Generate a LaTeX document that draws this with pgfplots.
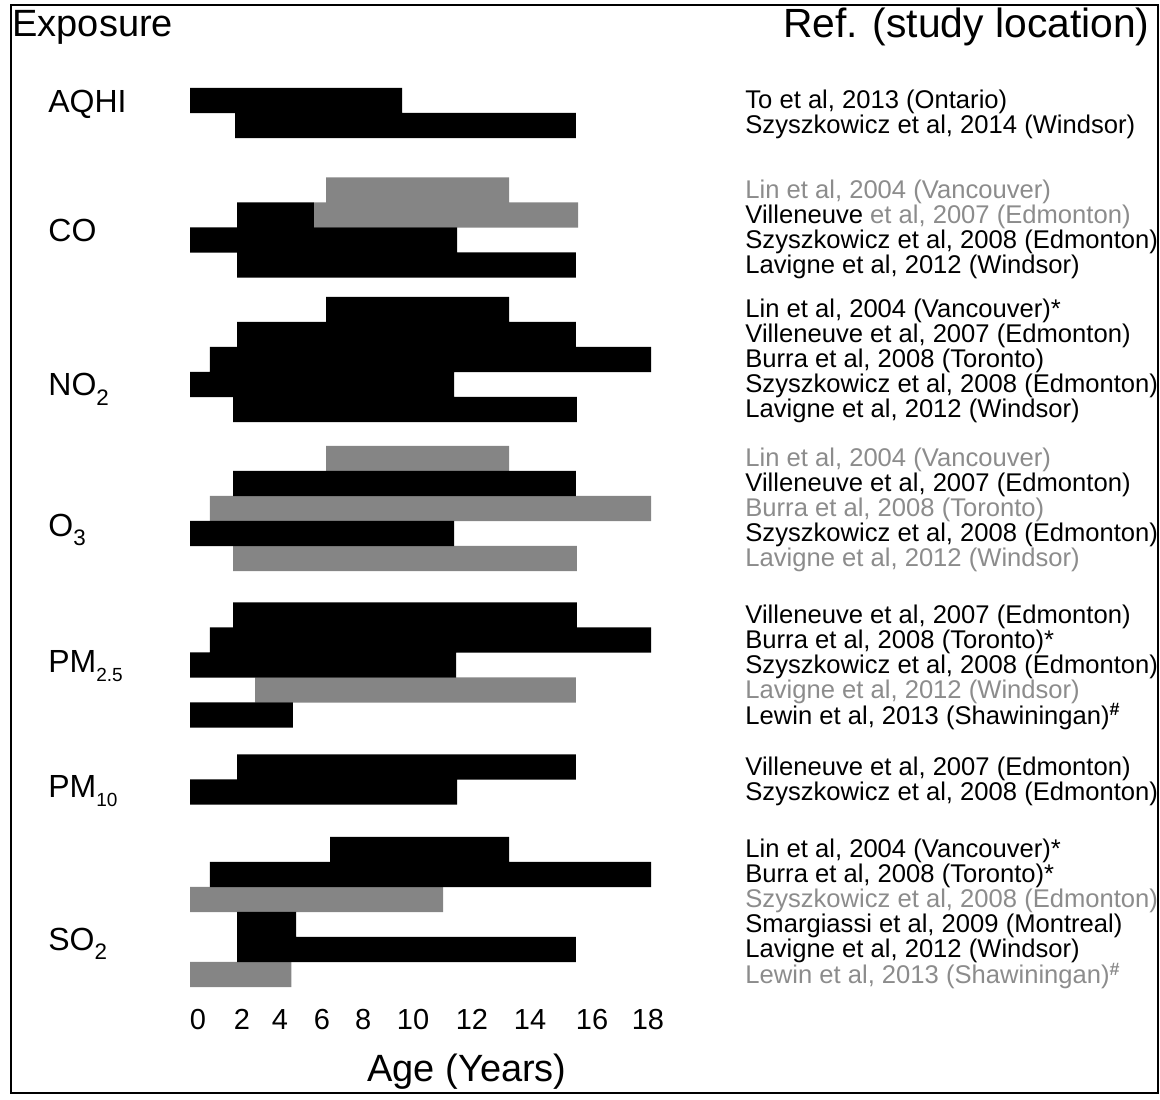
\documentclass[border=0pt]{standalone}
\usepackage{fontspec}
\setmainfont{Liberation Sans}
\usepackage{pgfplots}
\usepackage{pgfplotstable}
\pgfplotsset{compat=1.18}
\definecolor{bargray}{gray}{0.52}
\definecolor{txtgray}{gray}{0.55}

% y: vertical row position (px from top), start: first age of bar,
% black / gray: lengths (years) of the black and grey parts of each bar
\pgfplotstableread{
y     start black gray
100.5 0     8.28  0
125.5 1.76  13.31 0
190   5.31  0     7.15
215   1.84  3.00  10.31
240   0     10.43 0
265   1.84  13.23 0
309.5 5.31  7.15  0
334.5 1.84  13.23 0
359.5 0.78  17.22 0
384.5 0     10.31 0
409.5 1.68  13.43 0
458.5 5.31  0     7.15
483.5 1.68  13.39 0
508.5 0.78  0     17.22
533.5 0     10.31 0
558.5 1.68  0     13.43
615   1.68  13.43 0
640   0.78  17.22 0
665   0     10.39 0
690   2.54  0     12.53
715   0     4.02  0
767   1.84  13.23 0
792   0     10.43 0
849.5 5.47  6.99  0
874.5 0.78  17.22 0
899.5 0     0     9.88
924.5 1.84  2.30  0
949.5 1.84  13.23 0
974.5 0     0     3.96
}\agedata

\begin{document}
\begin{tikzpicture}[x=1pt,y=1pt]
\useasboundingbox (0,0) rectangle (580,549.5);
\draw[line width=1pt] (5.5,3) rectangle (579,547);
\begin{axis}[
  at={(95pt,49.5pt)}, anchor=south west,
  scale only axis, width=230.5pt, height=460pt,
  xmin=0, xmax=18, ymin=80, ymax=1000, y dir=reverse,
  xbar stacked, bar width=25.2,
  axis line style={draw=none}, major tick length=0pt,
  xtick={0.31,2.03,3.51,5.15,6.76,8.71,11.01,13.28,15.70,17.88},
  xticklabels={0,2,4,6,8,10,12,14,16,18},
  xticklabel pos=left,
  xticklabel style={anchor=north, yshift=-1pt, font=\fontsize{14.5}{16}\selectfont},
  ytick={100.5,125.5,190,215,240,265,309.5,334.5,359.5,384.5,409.5,458.5,483.5,508.5,533.5,558.5,615,640,665,690,715,767,792,849.5,874.5,899.5,924.5,949.5,974.5},
  yticklabels={
    {To et al, 2013 (Ontario)},
    {Szyszkowicz et al, 2014 (Windsor)},
    {\textcolor{txtgray}{Lin et al, 2004 (Vancouver)}},
    {Villeneuve\ \textcolor{txtgray}{et al, 2007 (Edmonton)}},
    {Szyszkowicz et al, 2008 (Edmonton)},
    {Lavigne et al, 2012 (Windsor)},
    {Lin et al, 2004 (Vancouver)*},
    {Villeneuve et al, 2007 (Edmonton)},
    {Burra et al, 2008 (Toronto)},
    {Szyszkowicz et al, 2008 (Edmonton)},
    {Lavigne et al, 2012 (Windsor)},
    {\textcolor{txtgray}{Lin et al, 2004 (Vancouver)}},
    {Villeneuve et al, 2007 (Edmonton)},
    {\textcolor{txtgray}{Burra et al, 2008 (Toronto)}},
    {Szyszkowicz et al, 2008 (Edmonton)},
    {\textcolor{txtgray}{Lavigne et al, 2012 (Windsor)}},
    {Villeneuve et al, 2007 (Edmonton)},
    {Burra et al, 2008 (Toronto)*},
    {Szyszkowicz et al, 2008 (Edmonton)},
    {\textcolor{txtgray}{Lavigne et al, 2012 (Windsor)}},
    {Lewin et al, 2013 (Shawiningan)\textsuperscript{\textbf{\#}}},
    {Villeneuve et al, 2007 (Edmonton)},
    {Szyszkowicz et al, 2008 (Edmonton)},
    {Lin et al, 2004 (Vancouver)*},
    {Burra et al, 2008 (Toronto)*},
    {\textcolor{txtgray}{Szyszkowicz et al, 2008 (Edmonton)}},
    {Smargiassi et al, 2009 (Montreal)},
    {Lavigne et al, 2012 (Windsor)},
    {\textcolor{txtgray}{Lewin et al, 2013 (Shawiningan)\textsuperscript{\textbf{\#}}}}
  },
  yticklabel pos=right,
  yticklabel style={anchor=west, inner xsep=0pt, xshift=47pt, yshift=-0.8pt, font=\fontsize{12.8}{13}\selectfont},
  clip=false,
]
\addplot[draw=none, fill=none] table[x=start, y=y]{\agedata};
\addplot[draw=none, fill=black] table[x=black, y=y]{\agedata};
\addplot[draw=none, fill=bargray] table[x=gray, y=y]{\agedata};
\end{axis}
\begin{scope}[every node/.style={font=\fontsize{16}{18}\selectfont, anchor=base west, inner sep=0pt}]
\node at (24,493) {AQHI};
\node at (24,428.5) {CO};
\node at (24,351.5) {NO\textsubscript{\raisebox{-0.35ex}{2}}};
\node at (24,281.5) {O\textsubscript{\raisebox{-0.35ex}{3}}};
\node at (24,213.5) {PM\textsubscript{\raisebox{-0.35ex}{\fontsize{9.5}{10}\selectfont 2.5}}};
\node at (24,151) {PM\textsubscript{\raisebox{-0.35ex}{\fontsize{9.5}{10}\selectfont 10}}};
\node at (24,74.5) {SO\textsubscript{\raisebox{-0.35ex}{2}}};
\end{scope}
\node[anchor=base west, inner sep=0pt, font=\fontsize{19}{22}\selectfont] at (6,531) {Exposure};
\node[anchor=base east, inner sep=0pt, font=\fontsize{20.4}{22}\selectfont] at (575,530.5) {Ref. (study location)};
\node[anchor=base, inner sep=0pt, font=\fontsize{19}{22}\selectfont] at (233.5,9) {Age (Years)};
\end{tikzpicture}
\end{document}
